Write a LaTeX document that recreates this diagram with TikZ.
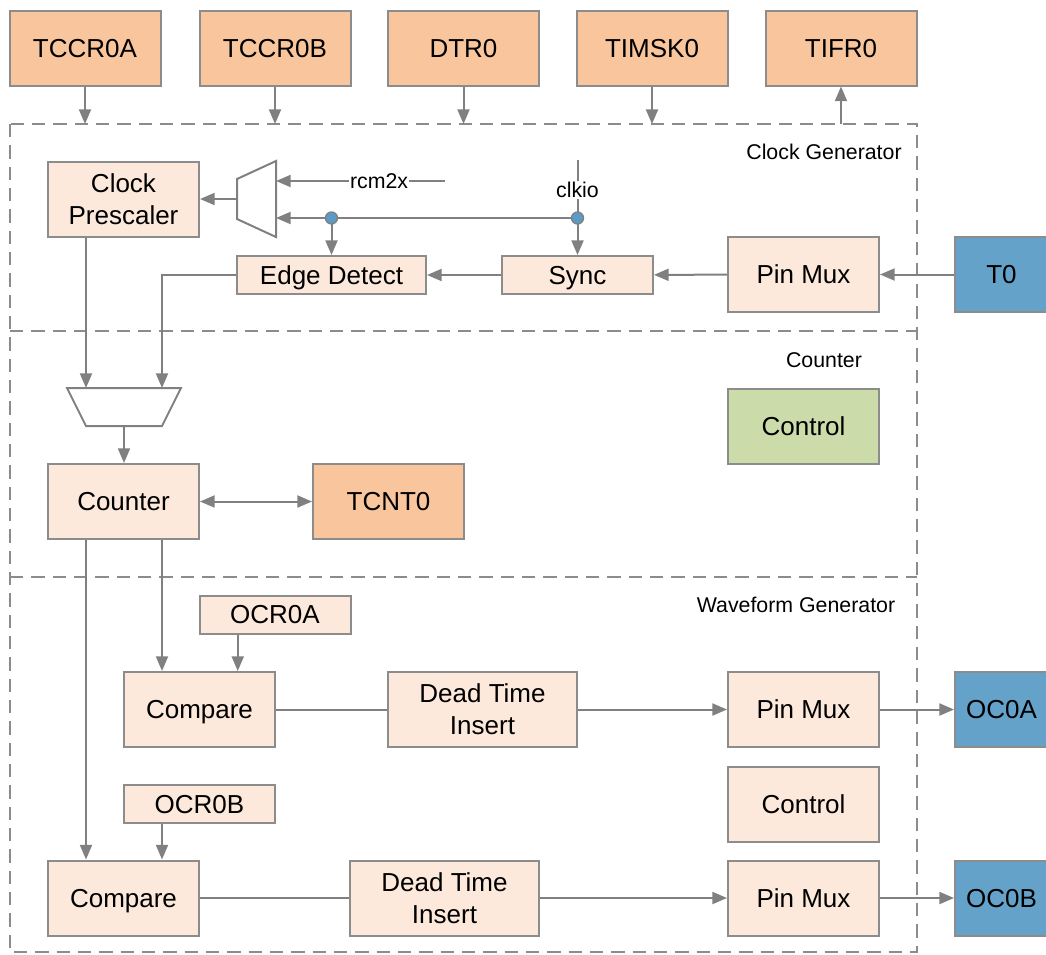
\documentclass[tikz,border=0pt]{standalone}
\usepackage{fontspec}
\setmainfont{Liberation Sans}
\usetikzlibrary{arrows.meta,calc}
\definecolor{regorange}{HTML}{F8C59C}
\definecolor{peach}{HTML}{FCE9DB}
\definecolor{pinblue}{HTML}{64A2CA}
\definecolor{ctrlgreen}{HTML}{CCDBAA}
\definecolor{dotblue}{HTML}{5A9BC8}
\definecolor{boxgray}{HTML}{8C8C8C}
\definecolor{wiregray}{HTML}{808080}
\newcommand{\bigtxt}{\fontsize{19.5}{24}\selectfont}
\newcommand{\smalltxt}{\fontsize{16}{19}\selectfont}
\begin{document}
\begin{tikzpicture}[x=0.75pt,y=-0.75pt,line width=1.5pt,
	blk/.style={draw=boxgray,fill=peach,inner sep=0pt,align=center,minimum width=113.25pt,minimum height=56.25pt,font=\bigtxt,text height=14pt,text depth=0pt},
	twoline/.style={text height={},text depth={}},
	reg/.style={blk,fill=regorange},
	pin/.style={blk,fill=pinblue,minimum width=69.75pt},
	slim/.style={blk,minimum height=28.5pt},
	wide/.style={minimum width=141.75pt},
	secname/.style={font=\smalltxt,inner sep=1pt},
	frame/.style={draw=boxgray,dash pattern=on 10pt off 6pt},
	wire/.style={draw=wiregray},
	tip/.tip={Triangle[length=11pt,width=9pt]},
	arr/.style={wire,-tip},
	dot/.style={circle,draw=wiregray,fill=dotblue,line width=1pt,minimum size=9pt,inner sep=0pt},
	tag/.style={font=\smalltxt,fill=white,inner sep=1pt}]
\clip (0,0) rectangle (1046,954);

\node[reg] (tccr0a) at ( 85,48) {TCCR0A};
\node[reg] (tccr0b) at (275,48) {TCCR0B};
\node[reg] (dtr0)   at (463.5,48) {DTR0};
\node[reg] (timsk0) at (652,48) {TIMSK0};
\node[reg] (tifr0)  at (841,48) {TIFR0};

\coordinate (fnw) at (10,124); \coordinate (fse) at (917,952);
\coordinate (fcg) at (10,331); \coordinate (fct) at (10,577);
\draw[frame] (fnw) rectangle (fse) (fcg) -- (fcg -| fse) (fct) -- (fct -| fse);
\node[secname] (cgname) at (824,152) {Clock Generator};
\node[secname] (ctname) at (824,360) {Counter};
\node[secname] (wgname) at (796,605) {Waveform Generator};

\foreach \r in {tccr0a,tccr0b,dtr0,timsk0} \draw[arr] (\r) -- (\r |- fnw);
\draw[arr] (tifr0 |- fnw) -- (tifr0);

\node[blk,twoline] (presc) at (123.5,199.5) {Clock\\Prescaler};
\node[slim,wide] (edge) at (331.5,275) {Edge Detect};
\node[slim] (sync) at (577.5,275) {Sync};
\node[blk] (pmux) at (803.5,274.5) {Pin Mux};
\node[pin] (t0) at (1001.5,274.5) {T0};
\coordinate (m1o) at (237,199); \coordinate (m1a) at (276,181); \coordinate (m1b) at (276,218);
\draw[wire,fill=white] (237,179) -- (276,161) -- (276,237) -- (237,219) -- cycle;
\coordinate (rcm) at (445,181); \coordinate (clkio) at (577.5,160);
\coordinate (jsync) at (sync.north |- m1b); \coordinate (jedge) at (edge.north |- m1b);

\draw[arr] (m1o) -- (m1o -| presc.east);
\draw[arr] (rcm) -- (m1a) node[tag,pos=0.39] (rcmname) {rcm2x};
\draw[wire] (clkio) -- (jsync) node[tag,pos=0.52] (clkname) {clkio};
\draw[wire] (jsync) -- (jedge);
\draw[arr] (jedge) -- (m1b);
\draw[arr] (jsync) -- (sync);
\draw[arr] (jedge) -- (edge);
\draw[arr] (sync) -- (edge);
\draw[arr] (pmux) -- (sync);
\draw[arr] (t0) -- (pmux);
\node[dot] (dotsync) at (jsync) {};
\node[dot] (dotedge) at (jedge) {};

\coordinate (m2a) at (86,388); \coordinate (m2b) at (162,388); \coordinate (m2o) at (124,426);
\draw[wire,fill=white] (67,388) -- (181,388) -- (162,426) -- (86,426) -- cycle;
\draw[arr] (presc.south -| m2a) -- (m2a);
\draw[arr] (edge.west) -| (m2b);
\node[blk] (counter) at (123.5,501.5) {Counter};
\node[reg] (tcnt0) at (388.5,501.5) {TCNT0};
\node[blk,fill=ctrlgreen] (ctrl) at (803.5,426) {Control};
\draw[arr] (m2o) -- (m2o |- counter.north);
\draw[wire,tip-tip] (counter) -- (tcnt0);

\node[slim] (ocr0a) at (275,614.5) {OCR0A};
\node[blk] (cmpa) at (199.5,709.5) {Compare};
\node[blk,wide,twoline] (dta) at (482.5,709.5) {Dead Time\\Insert};
\node[blk] (pma) at (803.5,709.5) {Pin Mux};
\node[pin] (oc0a) at (1001.5,709.5) {OC0A};
\node[blk] (ctrlw) at (803.5,804) {Control};
\node[slim] (ocr0b) at (199.5,804) {OCR0B};
\node[blk] (cmpb) at (123.5,898) {Compare};
\node[blk,wide,twoline] (dtb) at (444.5,898) {Dead Time\\Insert};
\node[blk] (pmb) at (803.5,898) {Pin Mux};
\node[pin] (oc0b) at (1001.5,898) {OC0B};
\coordinate (ina) at ($(cmpa.north)!0.5!(cmpa.north east)$);

\draw[arr] (m2b |- counter.south) -- (m2b |- cmpa.north);
\draw[arr] (m2a |- counter.south) -- (m2a |- cmpb.north);
\draw[arr] (ina |- ocr0a.south) -- (ina);
\draw[arr] (m2b |- ocr0b.south) -- (m2b |- cmpb.north);
\draw[wire] (cmpa) -- (dta);
\draw[arr] (dta) -- (pma);
\draw[arr] (pma) -- (oc0a);
\draw[wire] (cmpb) -- (dtb);
\draw[arr] (dtb) -- (pmb);
\draw[arr] (pmb) -- (oc0b);
\end{tikzpicture}
\end{document}
